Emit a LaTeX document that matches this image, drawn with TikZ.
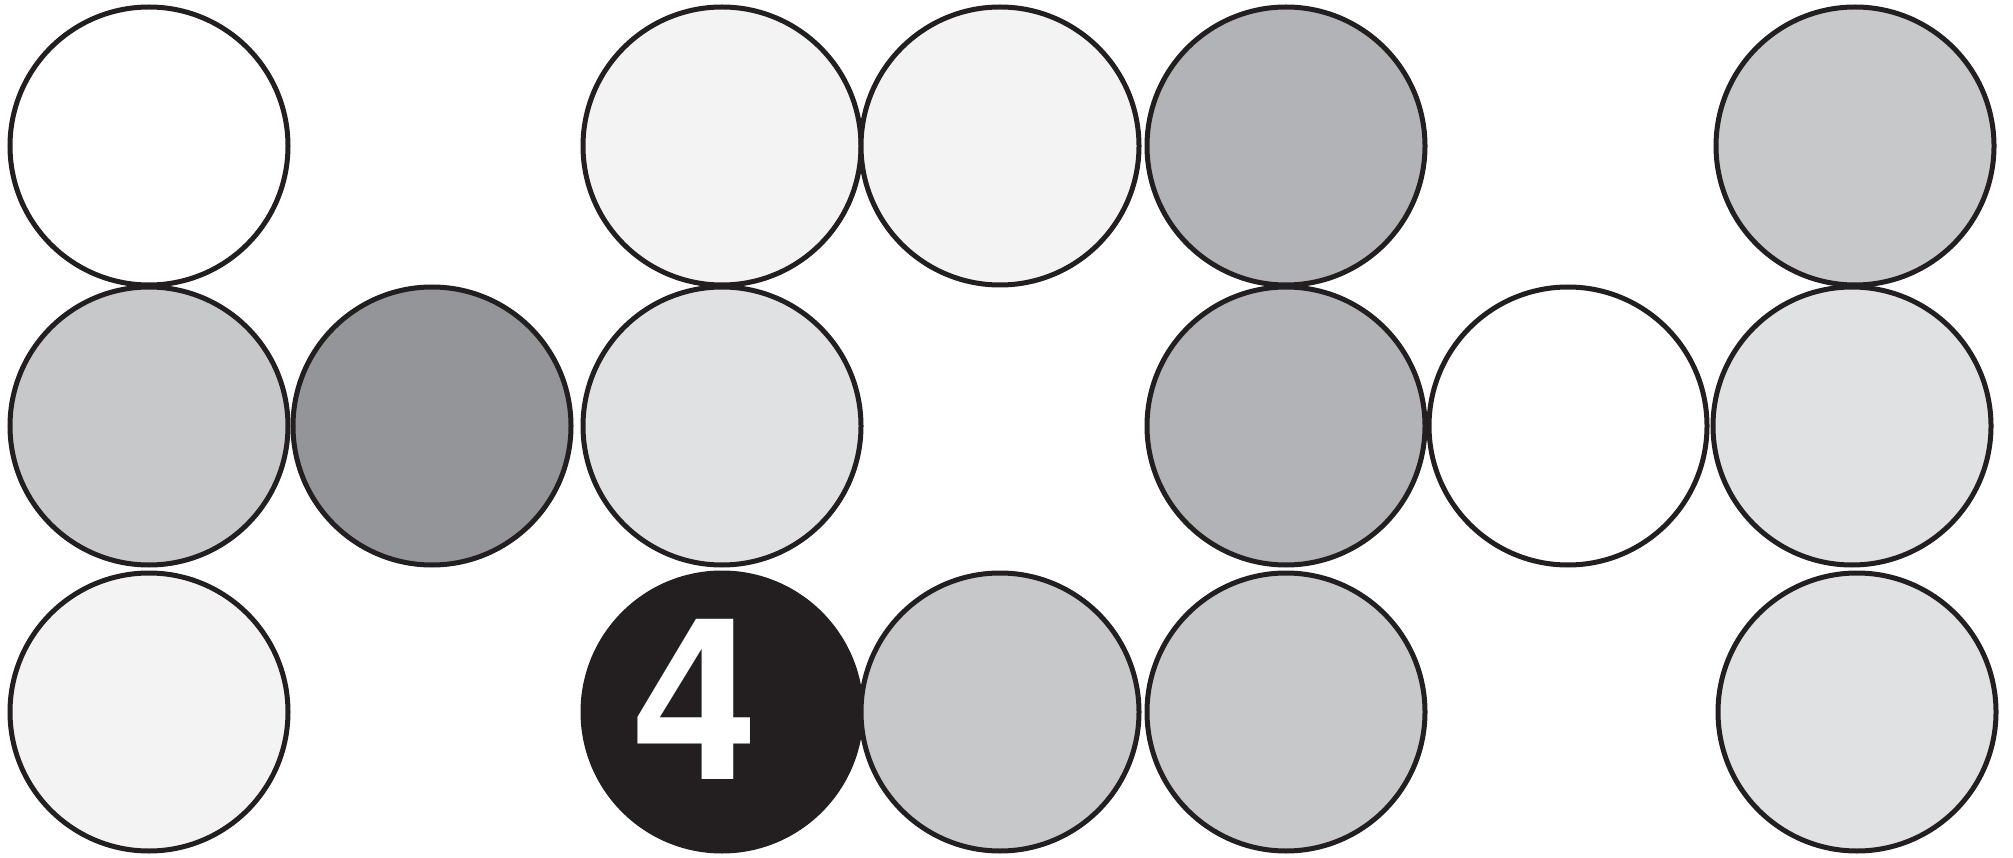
\documentclass[tikz,border=0pt]{standalone}
\usepackage{fontspec}
\setmainfont{TeX Gyre Heros}
\definecolor{ink}{HTML}{231F20}
\definecolor{grayA}{HTML}{F3F3F4}
\definecolor{grayB}{HTML}{E0E1E3}
\definecolor{grayC}{HTML}{C7C8CA}
\definecolor{grayD}{HTML}{B2B3B6}
\definecolor{grayE}{HTML}{939598}

\begin{document}
\begin{tikzpicture}[x=1pt, y=-1pt,
  ball/.style={circle, draw=ink, line width=5pt, minimum size=278pt, inner sep=0pt}]
  \useasboundingbox (0,0) rectangle (2013,858);

  % top row
  \node[ball, fill=white] (A1) at (149,146) {};
  \node[ball, fill=grayA] (C1) at (722,146) {};
  \node[ball, fill=grayA] (D1) at (1000,146) {};
  \node[ball, fill=grayD] (E1) at (1286,146) {};
  \node[ball, fill=grayC] (G1) at (1855,146) {};

  % middle row
  \node[ball, fill=grayC] (A2) at (149,426) {};
  \node[ball, fill=grayE] (B2) at (432,426) {};
  \node[ball, fill=grayB] (C2) at (722,426) {};
  \node[ball, fill=grayD] (E2) at (1286,426) {};
  \node[ball, fill=white] (F2) at (1568,426) {};
  \node[ball, fill=grayB] (G2) at (1852,426) {};

  % bottom row
  \node[ball, fill=grayA] (A3) at (149,712) {};
  \node[ball, fill=ink] (C3) at (722,712) {};
  \node[ball, fill=grayC] (D3) at (1000,712) {};
  \node[ball, fill=grayC] (E3) at (1286,712) {};
  \node[ball, fill=grayB] (G3) at (1857,712) {};

  \node[text=white, inner sep=0pt, font=\bfseries\fontsize{226}{226}\selectfont] (num) at (695,699) {4};
\end{tikzpicture}
\end{document}
